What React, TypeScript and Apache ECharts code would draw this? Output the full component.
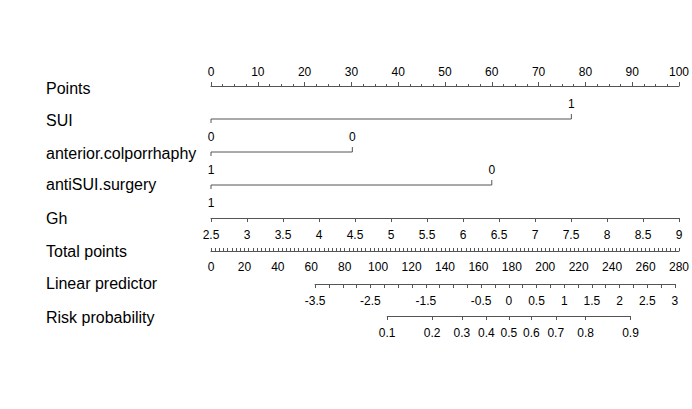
import React, { useEffect, useRef } from "react";
import * as echarts from "echarts";

// ---------------- data ----------------
const rowNames = [
  "Points",
  "SUI",
  "anterior.colporrhaphy",
  "antiSUI.surgery",
  "Gh",
  "Total points",
  "Linear predictor",
  "Risk probability",
];
const pointsMin = 0;
const pointsMax = 100;
const pointsStep = 10;

const suiLevels = ["0", "1"];
const suiPoints = [0, 77];
const anteriorLevels = ["1", "0"];
const anteriorPoints = [0, 30.2];
const antiSuiLevels = ["1", "0"];
const antiSuiPoints = [0, 60];

const ghMin = 2.5;
const ghMax = 9;
const ghStep = 0.5;

const totalMin = 0;
const totalMax = 280;
const totalStep = 20;

const lpMin = -3.5;
const lpMax = 3;
const lpTickStep = 0.25;
const lpLabels = [-3.5, -2.5, -1.5, -0.5, 0, 0.5, 1, 1.5, 2, 2.5, 3];
// total points at which the linear predictor reaches its min / max
const totalAtLpMin = 62;
const totalAtLpMax = 276.4;

const riskLabels = [0.1, 0.2, 0.3, 0.4, 0.5, 0.6, 0.7, 0.8, 0.9];

// ---------------- layout ----------------
const W = 692;
const H = 409;
const plotLeft = 211;
const plotRight = 681;
const mainTop = 86;
const mainBottom = 218;
const totalY = 251;
const lpY = 284;
const riskY = 316;
const labelX = 46;
const labelYs = [88, 120, 153, 184, 218, 251, 283, 317];
const LINE = "#555";
const FONT = "'Liberation Sans', Arial, sans-serif";

const logit = (p: number) => Math.log(p / (1 - p));

export default function App() {
  const ref = useRef<HTMLDivElement>(null);
  useEffect(() => {
    if (!ref.current) return;
    const chart = echarts.init(ref.current, undefined, { renderer: "svg" });
    const plotW = plotRight - plotLeft;
    const lpLeft = plotLeft + ((totalAtLpMin - totalMin) / (totalMax - totalMin)) * plotW;
    const lpRight = plotLeft + ((totalAtLpMax - totalMin) / (totalMax - totalMin)) * plotW;
    const lpPx = (v: number) => lpLeft + ((v - lpMin) / (lpMax - lpMin)) * (lpRight - lpLeft);
    const riskMinL = logit(riskLabels[0]);
    const riskMaxL = logit(riskLabels[riskLabels.length - 1]);
    const riskLeft = lpPx(riskMinL);
    const riskRight = lpPx(riskMaxL);

    const vars = [
      { levels: suiLevels, pts: suiPoints, row: 1 },
      { levels: anteriorLevels, pts: anteriorPoints, row: 2 },
      { levels: antiSuiLevels, pts: antiSuiPoints, row: 3 },
    ];

    const axisLabelBase = { color: "#000", fontSize: 12, fontFamily: FONT };
    const lineStyle = { color: LINE, width: 1 };

    const series: any[] = [];
    vars.forEach((v) => {
      series.push({
        type: "line",
        xAxisIndex: 0,
        yAxisIndex: 0,
        symbol: "none",
        lineStyle: { color: LINE, width: 1 },
        data: [
          [Math.min(...v.pts), v.row],
          [Math.max(...v.pts), v.row],
        ],
        silent: true,
      });
      const maxP = Math.max(...v.pts);
      series.push({
        type: "custom",
        xAxisIndex: 0,
        yAxisIndex: 0,
        silent: true,
        data: v.pts.map((p, i) => [p, v.row, p === maxP ? 1 : -1, v.levels[i]]),
        renderItem: (params: any, api: any) => {
          const c = api.coord([api.value(0), api.value(1)]);
          const dir = api.value(2);
          const idx = params.dataIndex;
          const label = v.levels[idx];
          return {
            type: "group",
            children: [
              {
                type: "line",
                shape: { x1: c[0], y1: c[1], x2: c[0], y2: c[1] - dir * (dir > 0 ? 5 : 4) },
                style: { stroke: LINE, lineWidth: 1 },
              },
              {
                type: "text",
                style: {
                  text: label,
                  x: c[0],
                  y: c[1] - dir * (dir > 0 ? 15.5 : 17.5),
                  align: "center",
                  verticalAlign: "middle",
                  fill: "#000",
                  fontSize: 12,
                  fontFamily: FONT,
                },
              },
            ],
          };
        },
      });
    });

    const option: any = {
      animation: false,
      backgroundColor: "#fff",
      grid: [
        { left: plotLeft, right: W - plotRight, top: mainTop, bottom: H - mainBottom },
        { left: plotLeft, right: W - plotRight, top: totalY - 10, bottom: H - totalY },
        { left: lpLeft, right: W - lpRight, top: lpY - 10, bottom: H - lpY },
        { left: riskLeft, right: W - riskRight, top: riskY - 10, bottom: H - riskY },
      ],
      xAxis: [
        {
          gridIndex: 0,
          type: "value",
          position: "top",
          min: pointsMin,
          max: pointsMax,
          interval: pointsStep,
          axisLine: { show: true, lineStyle },
          axisTick: { show: true, length: 4, lineStyle },
          minorTick: { show: true, splitNumber: 4, length: 2, lineStyle },
          splitLine: { show: false },
          axisLabel: { ...axisLabelBase, margin: 8 },
        },
        {
          gridIndex: 0,
          type: "value",
          position: "bottom",
          min: ghMin,
          max: ghMax,
          interval: ghStep,
          axisLine: { show: true, onZero: false, lineStyle },
          axisTick: { show: true, length: 4, lineStyle },
          splitLine: { show: false },
          axisLabel: { ...axisLabelBase, margin: 11 },
        },
        {
          gridIndex: 1,
          type: "value",
          position: "bottom",
          min: totalMin,
          max: totalMax,
          interval: totalStep,
          axisLine: { show: true, onZero: false, lineStyle },
          axisTick: { show: true, inside: true, length: 3, lineStyle },
          minorTick: { show: true, splitNumber: 8, length: 3, lineStyle },
          splitLine: { show: false },
          axisLabel: { ...axisLabelBase, margin: 10 },
        },
        {
          gridIndex: 2,
          type: "value",
          position: "bottom",
          min: lpMin,
          max: lpMax,
          interval: lpTickStep,
          axisLine: { show: true, onZero: false, lineStyle },
          axisTick: { show: true, length: 4, lineStyle },
          splitLine: { show: false },
          axisLabel: {
            ...axisLabelBase,
            margin: 11,
            formatter: (val: number) =>
              lpLabels.some((l) => Math.abs(l - val) < 1e-6) ? String(Math.round(val * 100) / 100) : "",
          },
        },
        {
          gridIndex: 3,
          type: "value",
          position: "bottom",
          min: riskMinL,
          max: riskMaxL,
          axisLine: { show: true, onZero: false, lineStyle },
          axisTick: { show: true, length: 4, lineStyle, customValues: riskLabels.map(logit) },
          splitLine: { show: false },
          axisLabel: {
            ...axisLabelBase,
            margin: 11,
            customValues: riskLabels.map(logit),
            formatter: (val: number) => (1 / (1 + Math.exp(-val))).toFixed(1),
          },
        },
      ],
      yAxis: [
        { gridIndex: 0, type: "value", min: 0, max: 4, inverse: true, show: false },
        { gridIndex: 1, type: "value", show: false },
        { gridIndex: 2, type: "value", show: false },
        { gridIndex: 3, type: "value", show: false },
      ],
      graphic: rowNames.map((name, i) => ({
        type: "text",
        x: labelX,
        y: labelYs[i],
        silent: true,
        style: {
          text: name,
          fill: "#000",
          fontSize: 16,
          fontFamily: FONT,
          align: "left",
          verticalAlign: "middle",
        },
      })),
      series,
    };
    chart.setOption(option);
    return () => chart.dispose();
  }, []);
  return (
    <div
      ref={ref}
      style={{ position: "fixed", left: 0, top: 0, width: W, height: H, background: "#fff" }}
    />
  );
}
